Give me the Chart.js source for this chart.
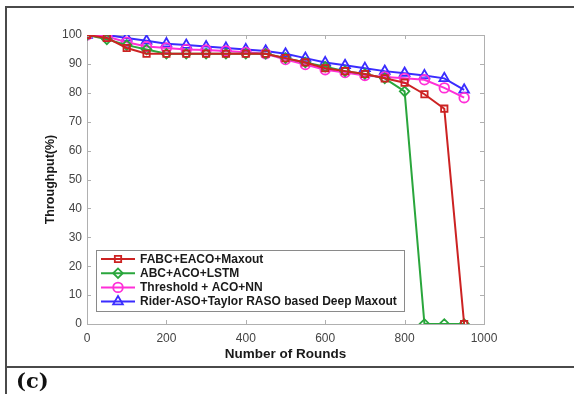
<!DOCTYPE html>
<html>
<head>
<meta charset="utf-8">
<script src="https://cdn.jsdelivr.net/npm/chart.js@4.4.1/dist/chart.umd.min.js"></script>
<style>
  body { margin: 0; background: #fff; }
  #wrap { position: relative; width: 574px; height: 394px; overflow: hidden; background: #fff; }
  #chart { position: absolute; left: 0; top: 0; }
  .rule { position: absolute; background: #4a4a4a; }
  #caption { position: absolute; left: 16px; top: 368px; font: bold 21px "DejaVu Serif", serif; color: #111; }
</style>
</head>
<body>
<div id="wrap">
  <div class="rule" style="left:5px; top:6px; width:569px; height:2px;"></div>
  <div class="rule" style="left:5px; top:6px; width:2px; height:388px;"></div>
  <div class="rule" style="left:5px; top:366px; width:569px; height:2px;"></div>
  <canvas id="chart" width="574" height="394"></canvas>
  <div id="caption">(c)</div>
</div>
<script>
  // rondas y throughput (%) de cada método
  const rounds = [0, 50, 100, 150, 200, 250, 300, 350, 400, 450, 500, 550, 600, 650, 700, 750, 800, 850, 900, 950];
  const fabcEaco = [100, 99, 95.5, 93.5, 93.5, 93.5, 93.5, 93.5, 93.5, 93.5, 92, 90.5, 88.5, 87.5, 86.5, 85, 83.5, 79.5, 74.5, 0];
  const abcAcoLstm = [100, 98.5, 96.5, 95, 93.5, 93.5, 93.5, 93.5, 93.5, 93.5, 92, 90.5, 89, 87.5, 86.5, 85, 80.5, 0, 0, 0];
  const thresholdAcoNn = [100, 99.5, 97.5, 96, 95.5, 95, 94.8, 94.5, 94, 93.5, 91.5, 89.8, 88, 87, 86, 85.5, 85, 84.5, 81.7, 78.3];
  const riderAsoTaylor = [100, 100, 99, 98, 97, 96.5, 96, 95.5, 95, 94.5, 93.5, 92, 90.5, 89.5, 88.5, 87.5, 86.8, 86, 85, 81];

  const seriesNames = ['FABC+EACO+Maxout', 'ABC+ACO+LSTM', 'Threshold + ACO+NN', 'Rider-ASO+Taylor RASO based Deep Maxout'];
  const xTicks = [0, 200, 400, 600, 800, 1000];
  const yTicks = [0, 10, 20, 30, 40, 50, 60, 70, 80, 90, 100];

  const toPoints = (vals) => vals.map((v, i) => ({ x: rounds[i], y: v }));
  const fontFam = '"Liberation Sans", Arial, sans-serif';

  function serie(label, data, color, style, radius) {
    return {
      label: label,
      data: toPoints(data),
      borderColor: color,
      backgroundColor: color,
      borderWidth: 2,
      pointStyle: style,
      pointRadius: radius,
      pointBorderWidth: 1.8,
      pointBorderColor: color,
      pointBackgroundColor: 'rgba(255,255,255,0)',
      tension: 0
    };
  }

  // caja de ejes con marcas hacia dentro y leyenda dentro del área
  const boxAxes = {
    id: 'boxAxes',
    beforeDatasetsDraw(chart) {
      const { ctx, chartArea: a, scales } = chart;
      ctx.save();
      ctx.strokeStyle = '#b0b0b0';
      ctx.lineWidth = 1;
      ctx.strokeRect(a.left + 0.5, a.top + 0.5, a.right - a.left, a.bottom - a.top);
      ctx.beginPath();
      yTicks.forEach(v => {
        const y = Math.round(scales.y.getPixelForValue(v)) + 0.5;
        ctx.moveTo(a.left, y); ctx.lineTo(a.left + 4, y);
        ctx.moveTo(a.right, y); ctx.lineTo(a.right - 4, y);
      });
      xTicks.forEach(v => {
        const x = Math.round(scales.x.getPixelForValue(v)) + 0.5;
        ctx.moveTo(x, a.bottom); ctx.lineTo(x, a.bottom - 4);
        ctx.moveTo(x, a.top); ctx.lineTo(x, a.top + 4);
      });
      ctx.stroke();
      ctx.restore();
    },
    afterDatasetsDraw(chart) {
      const { ctx } = chart;
      const bx = 96, by = 250, bw = 308, bh = 61;
      ctx.save();
      ctx.fillStyle = '#fff';
      ctx.fillRect(bx, by, bw, bh);
      ctx.strokeStyle = '#8a8a8a';
      ctx.lineWidth = 1;
      ctx.strokeRect(bx + 0.5, by + 0.5, bw, bh);
      ctx.font = 'bold 12px ' + fontFam;
      ctx.textBaseline = 'middle';
      chart.data.datasets.forEach((ds, i) => {
        const y = by + 9 + i * 14.2;
        ctx.strokeStyle = ds.borderColor;
        ctx.lineWidth = 2;
        ctx.beginPath();
        ctx.moveTo(bx + 5, y); ctx.lineTo(bx + 39, y);
        ctx.stroke();
        ctx.lineWidth = 1.8;
        ctx.fillStyle = 'rgba(255,255,255,0)';
        Chart.helpers.drawPoint(ctx, { pointStyle: ds.pointStyle, radius: ds.pointRadius, rotation: 0, borderWidth: 1.8 }, bx + 22, y);
        ctx.fillStyle = '#1a1a1a';
        ctx.fillText(ds.label, bx + 44, y + 0.5);
      });
      ctx.restore();
    }
  };

  new Chart(document.getElementById('chart').getContext('2d'), {
    type: 'line',
    data: {
      datasets: [
        serie(seriesNames[0], fabcEaco, '#cc2222', 'rect', 4.5),
        serie(seriesNames[1], abcAcoLstm, '#2aa63c', 'rectRot', 4.8),
        serie(seriesNames[2], thresholdAcoNn, '#ff2fd8', 'circle', 4.8),
        serie(seriesNames[3], riderAsoTaylor, '#3a2cff', 'triangle', 5.6)
      ]
    },
    options: {
      responsive: false,
      animation: false,
      layout: { padding: { left: 0, right: 90, top: 35, bottom: 0 } },
      plugins: { legend: { display: false }, tooltip: { enabled: false } },
      scales: {
        x: {
          type: 'linear',
          min: 0,
          max: 1000,
          afterFit: (scale) => { scale.height = 70; },
          afterBuildTicks: (scale) => { scale.ticks = xTicks.map(v => ({ value: v })); },
          grid: { display: false, drawTicks: false },
          border: { display: false },
          ticks: {
            color: '#444', padding: 7,
            font: { family: fontFam, size: 12 },
            callback: (v) => String(v)
          },
          title: {
            display: true,
            text: 'Number of Rounds',
            color: '#1a1a1a',
            padding: { top: 0, bottom: 32 },
            font: { family: fontFam, size: 13.5, weight: 'bold' }
          }
        },
        y: {
          min: 0,
          max: 100,
          afterFit: (scale) => { scale.width = 87; },
          afterBuildTicks: (scale) => { scale.ticks = yTicks.map(v => ({ value: v })); },
          grid: { display: false, drawTicks: false },
          border: { display: false },
          ticks: {
            color: '#444', padding: 5,
            font: { family: fontFam, size: 12 },
            callback: (v) => String(v)
          },
          title: {
            display: true,
            text: 'Throughput(%)',
            color: '#1a1a1a',
            padding: { top: 43, bottom: 0 },
            font: { family: fontFam, size: 12.5, weight: 'bold' }
          }
        }
      }
    },
    plugins: [boxAxes]
  });
</script>
</body>
</html>
